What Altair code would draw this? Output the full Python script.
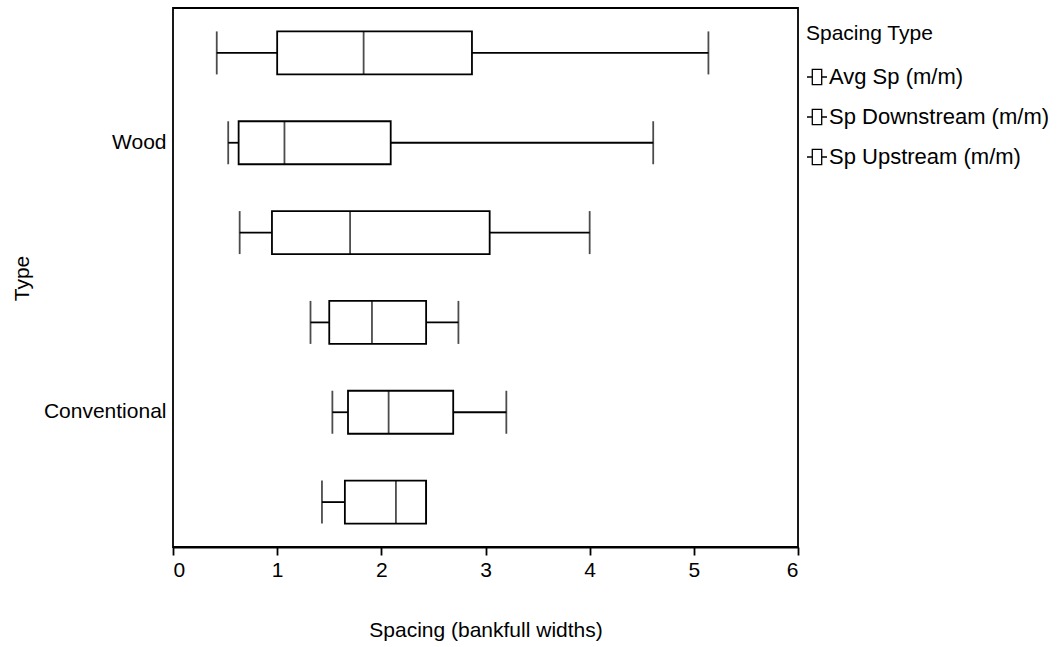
import altair as alt
import pandas as pd

# Box-plot summaries of spacing (in bankfull widths) per structure type
groups = ["Wood", "Wood", "Wood", "Conventional", "Conventional", "Conventional"]
spacing_types = ["Avg Sp (m/m)", "Sp Downstream (m/m)", "Sp Upstream (m/m)"] * 2
whisker_low = [0.42, 0.53, 0.64, 1.32, 1.53, 1.43]
q1 = [1.00, 0.63, 0.95, 1.50, 1.68, 1.65]
median = [1.83, 1.07, 1.70, 1.91, 2.07, 2.14]
q3 = [2.87, 2.09, 3.04, 2.43, 2.69, 2.43]
whisker_high = [5.14, 4.61, 4.00, 2.74, 3.20, 2.43]

df = pd.DataFrame({
    "group": groups,
    "stype": spacing_types,
    "lo": whisker_low,
    "q1": q1,
    "med": median,
    "q3": q3,
    "hi": whisker_high,
})
df["row"] = df["group"] + "|" + df["stype"]
row_order = list(df["row"])

FONT = "Liberation Sans"
BOX = 43
LW = 1.8

y_enc = alt.Y(
    "row:N",
    sort=row_order,
    scale=alt.Scale(domain=row_order, paddingInner=0, paddingOuter=0),
    axis=alt.Axis(
        title="Type",
        labelExpr="split(datum.value, '|')[1] == 'Sp Downstream (m/m)' ? split(datum.value, '|')[0] : ''",
        ticks=False,
        domain=False,
        labelPadding=7,
        labelFontSize=21,
        titleFontSize=21,
        titleFontWeight="normal",
        titleX=-141,
        titleY=270,
        labelColor="black",
        titleColor="black",
        labelFont=FONT,
        titleFont=FONT,
    ),
)

x_scale = alt.Scale(domain=[0, 6], nice=False, zero=False)
x_axis = alt.Axis(
    title="Spacing (bankfull widths)",
    values=[0, 1, 2, 3, 4, 5, 6],
    format="d",
    grid=False,
    tickSize=8,
    tickColor="black",
    tickWidth=LW,
    domainColor="black",
    domainWidth=LW,
    labelPadding=4,
    labelFontSize=21,
    titleFontSize=21,
    titleFontWeight="normal",
    titleY=72,
    labelColor="black",
    titleColor="black",
    labelFont=FONT,
    titleFont=FONT,
)

base = alt.Chart(df)

whisker_left = base.mark_rule(color="black", strokeWidth=LW).encode(
    x=alt.X("lo:Q", scale=x_scale, axis=x_axis), x2="q1:Q", y=y_enc
)
whisker_right = base.mark_rule(color="black", strokeWidth=LW).encode(
    x=alt.X("q3:Q", scale=x_scale), x2="hi:Q", y=y_enc
)

# small box-and-whisker glyph for the legend entries
legend_symbol = "M-1,0H-0.47M0.47,0H1M-0.47,-0.76H0.47V0.76H-0.47Z"

boxes = base.mark_bar(size=BOX, fill="white", strokeWidth=LW).encode(
    x=alt.X("q1:Q", scale=x_scale),
    x2="q3:Q",
    y=y_enc,
    stroke=alt.Stroke(
        "stype:N",
        scale=alt.Scale(domain=spacing_types[:3], range=["black", "black", "black"]),
        legend=alt.Legend(
            title="Spacing Type",
            orient="none",
            legendX=633,
            legendY=15,
            symbolType=legend_symbol,
            symbolSize=400,
            symbolFillColor="white",
            symbolStrokeColor="black",
            symbolStrokeWidth=1.3,
            labelOffset=1,
            labelLimit=0,
            labelFontSize=22,
            titleFontSize=21,
            titleFontWeight="normal",
            titlePadding=22,
            rowPadding=18,
            labelColor="black",
            titleColor="black",
            labelFont=FONT,
            titleFont=FONT,
        ),
    ),
)

cap_low = base.mark_tick(color="black", size=BOX, thickness=LW).encode(
    x=alt.X("lo:Q", scale=x_scale), y=y_enc
)
cap_high = base.mark_tick(color="black", size=BOX, thickness=LW).encode(
    x=alt.X("hi:Q", scale=x_scale), y=y_enc
)
median_line = base.mark_tick(color="black", size=BOX, thickness=LW).encode(
    x=alt.X("med:Q", scale=x_scale), y=y_enc
)

chart = (
    alt.layer(whisker_left, whisker_right, boxes, cap_low, cap_high, median_line)
    .properties(
        width=625,
        height=539,
        autosize=alt.AutoSizeParams(type="none"),
        padding={"left": 173, "top": 8, "right": 262, "bottom": 100},
        background="white",
    )
    .configure_view(stroke="black", strokeWidth=LW)
)

chart.save("out.html", embed_options={"renderer": "svg", "actions": False})
